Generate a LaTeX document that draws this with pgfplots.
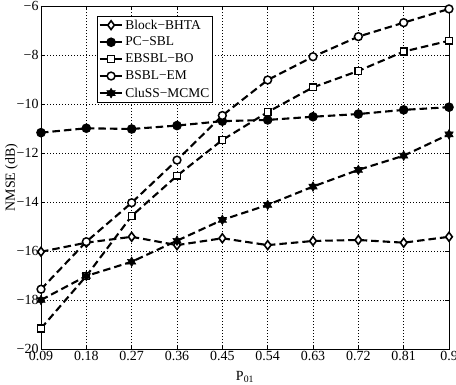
\documentclass[border=0pt]{standalone}
\usepackage{fontspec}
\setmainfont{Liberation Serif}
\usepackage{pgfplots}
\pgfplotsset{compat=1.18}

% six-pointed star, like the hexagram marker
\pgfdeclareplotmark{hexagram}{%
  \pgfpathmoveto{\pgfpointpolar{90}{\pgfplotmarksize}}%
  \pgfpathlineto{\pgfpointpolar{120}{0.577\pgfplotmarksize}}%
  \pgfpathlineto{\pgfpointpolar{150}{\pgfplotmarksize}}%
  \pgfpathlineto{\pgfpointpolar{180}{0.577\pgfplotmarksize}}%
  \pgfpathlineto{\pgfpointpolar{210}{\pgfplotmarksize}}%
  \pgfpathlineto{\pgfpointpolar{240}{0.577\pgfplotmarksize}}%
  \pgfpathlineto{\pgfpointpolar{270}{\pgfplotmarksize}}%
  \pgfpathlineto{\pgfpointpolar{300}{0.577\pgfplotmarksize}}%
  \pgfpathlineto{\pgfpointpolar{330}{\pgfplotmarksize}}%
  \pgfpathlineto{\pgfpointpolar{0}{0.577\pgfplotmarksize}}%
  \pgfpathlineto{\pgfpointpolar{30}{\pgfplotmarksize}}%
  \pgfpathlineto{\pgfpointpolar{60}{0.577\pgfplotmarksize}}%
  \pgfpathclose
  \pgfusepathqfillstroke
}

\begin{document}
\begin{tikzpicture}
\begin{axis}[
  scale only axis,
  width=408bp, height=343bp,
  xmin=0.09, xmax=0.9, ymin=-20, ymax=-6,
  xtick={0.09,0.18,0.27,0.36,0.45,0.54,0.63,0.72,0.81,0.9},
  xticklabels={0.09,0.18,0.27,0.36,0.45,0.54,0.63,0.72,0.81,0.9},
  ytick={-20,-18,-16,-14,-12,-10,-8,-6},
  yticklabels={−20,−18,−16,−14,−12,−10,−8,−6},
  font=\fontsize{14}{16}\selectfont,
  ticklabel style={font=\fontsize{14}{16}\selectfont},
  xticklabel style={yshift=1bp},
  yticklabel style={xshift=1bp},
  axis line style={line width=0.8bp},
  tick style={black, line width=0.6bp},
  major tick length=4bp,
  grid=major,
  major grid style={black, line width=0.6bp, dash pattern=on 0.8bp off 2.2bp},
  xlabel={P\textsubscript{01}},
  ylabel={NMSE (dB)},
  every axis x label/.style={at={(axis description cs:0.5,-0.081)}, anchor=center},
  every axis y label/.style={at={(axis description cs:-0.072,0.5)}, rotate=90, anchor=center},
  every axis plot/.append style={black, line width=2.1bp, dash pattern=on 7.5bp off 4bp},
  legend style={at={(0.137,0.971)}, anchor=north west, draw=black, line width=0.6bp,
    fill=white, font=\fontsize{13.5}{15}\selectfont, row sep=2.5bp, inner sep=1.5bp},
  legend cell align=left,
  legend image code/.code={%
    \draw[mark repeat=2, mark phase=2, solid] plot coordinates {(0cm,0cm)(0.4cm,0cm)(0.8cm,0cm)};},
]
\addplot[mark=diamond*, mark size=4.4bp, mark options={solid, fill=white, line width=1.6bp}] coordinates {
  (0.09,-16.03)(0.18,-15.66)(0.27,-15.42)(0.36,-15.76)(0.45,-15.48)
  (0.54,-15.76)(0.63,-15.59)(0.72,-15.55)(0.81,-15.66)(0.9,-15.42)};
\addlegendentry{Block−BHTA}
\addplot[mark=*, mark size=3.7bp, mark options={solid, fill=black}] coordinates {
  (0.09,-11.17)(0.18,-10.99)(0.27,-11.02)(0.36,-10.88)(0.45,-10.70)
  (0.54,-10.65)(0.63,-10.52)(0.72,-10.41)(0.81,-10.24)(0.9,-10.13)};
\addlegendentry{PC−SBL}
\addplot[mark=square*, mark size=3.4bp, mark options={solid, fill=white, line width=1.5bp}] coordinates {
  (0.09,-19.16)(0.18,-17.02)(0.27,-14.57)(0.36,-12.93)(0.45,-11.47)
  (0.54,-10.33)(0.63,-9.32)(0.72,-8.65)(0.81,-7.86)(0.9,-7.42)};
\addlegendentry{EBSBL−BO}
\addplot[mark=*, mark size=3.9bp, mark options={solid, fill=white, line width=1.5bp}] coordinates {
  (0.09,-17.56)(0.18,-15.62)(0.27,-14.03)(0.36,-12.29)(0.45,-10.47)
  (0.54,-9.02)(0.63,-8.07)(0.72,-7.25)(0.81,-6.68)(0.9,-6.12)};
\addlegendentry{BSBL−EM}
\addplot[mark=hexagram, mark size=4.8bp, mark options={solid, fill=black, line width=0.6bp}] coordinates {
  (0.09,-18.0)(0.18,-17.02)(0.27,-16.44)(0.36,-15.58)(0.45,-14.73)
  (0.54,-14.12)(0.63,-13.37)(0.72,-12.69)(0.81,-12.11)(0.9,-11.24)};
\addlegendentry{CluSS−MCMC}
\end{axis}
\pgfresetboundingbox
\path[use as bounding box] ([shift={(-41bp,-35bp)}]current axis.south west)
  rectangle ([shift={(7bp,6bp)}]current axis.north east);
\end{tikzpicture}
\end{document}
